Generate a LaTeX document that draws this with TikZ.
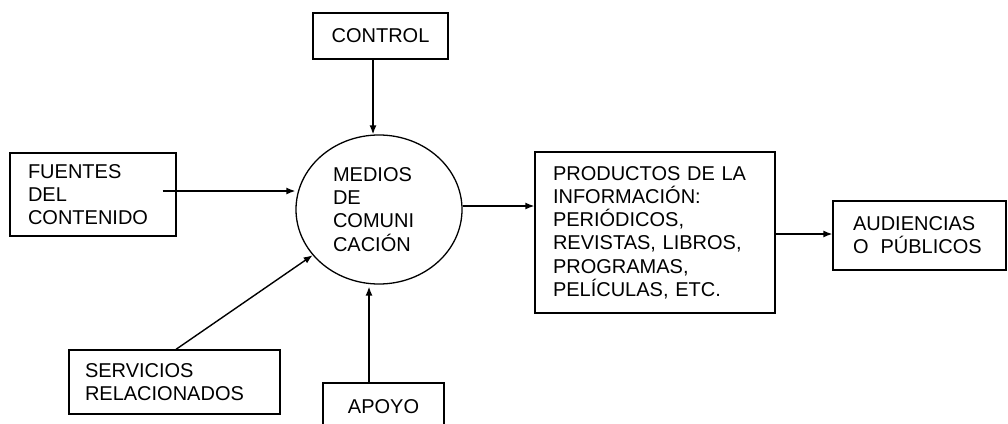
\documentclass[tikz,border=0pt]{standalone}
\usepackage{fontspec}
\setmainfont{Liberation Sans}
\usetikzlibrary{arrows.meta,shapes.geometric}
\begin{document}
\begin{tikzpicture}[x=1pt,y=-1pt,
  txt/.style={font=\fontsize{20}{23.2}\selectfont},
  box/.style={draw,line width=1.3pt,rectangle,inner sep=0pt,txt,align=left},
  arr/.style={line width=1.4pt,-{Latex[length=9pt,width=7pt]}}]
\useasboundingbox (0,0) rectangle (1008,423);
\clip (0,0) rectangle (1008,423);
\node[box,minimum width=135,minimum height=46] (ctrl) at (380.5,36) {CONTROL};
\node[box,minimum width=166,minimum height=83,text width=130] (fue) at (93,194.5) {FUENTES\\DEL\\CONTENIDO};
\node[draw,line width=1.3pt,ellipse,inner sep=0pt,minimum width=166,minimum height=149,txt,align=left,text width=92] (med) at (379,209.5) {MEDIOS\\DE\\COMUNI\\CACIÓN};
\node[box,minimum width=240,minimum height=161,text width=204] (prod) at (655,232.5) {\raisebox{5pt}{\parbox{204pt}{PRODUCTOS DE LA\\INFORMACIÓN:\\PERIÓDICOS,\\REVISTAS, LIBROS,\\PROGRAMAS,\\PELÍCULAS, ETC.}}};
\node[box,minimum width=173,minimum height=69,text width=133] (aud) at (919.5,235.5) {AUDIENCIAS\\O\hspace{0.6em}PÚBLICOS};
\node[box,minimum width=211,minimum height=64,text width=179] (serv) at (174.5,382) {SERVICIOS\\RELACIONADOS};
\node[box,minimum width=121,minimum height=48] (apo) at (383.5,407) {APOYO};
\coordinate (c1) at ([xshift=-7.5]ctrl.south);
\draw[arr] (c1) -- (c1 |- med.north);
\coordinate (f1) at ([xshift=-14,yshift=3.5]fue.east);
\draw[arr] (f1) -- (f1 -| med.west);
\coordinate (m1) at ([yshift=3.5]med.east);
\draw[arr] (m1) -- (m1 -| prod.west);
\coordinate (p1) at ([yshift=-1.5]prod.east);
\draw[arr] (p1) -- (p1 -| aud.west);
\draw[arr] ([xshift=1.5]serv.north) -- (med);
\coordinate (a1) at ([xshift=-14.5]apo.north);
\draw[arr] (a1) -- ([yshift=-2]a1 |- med.south);
\end{tikzpicture}
\end{document}
